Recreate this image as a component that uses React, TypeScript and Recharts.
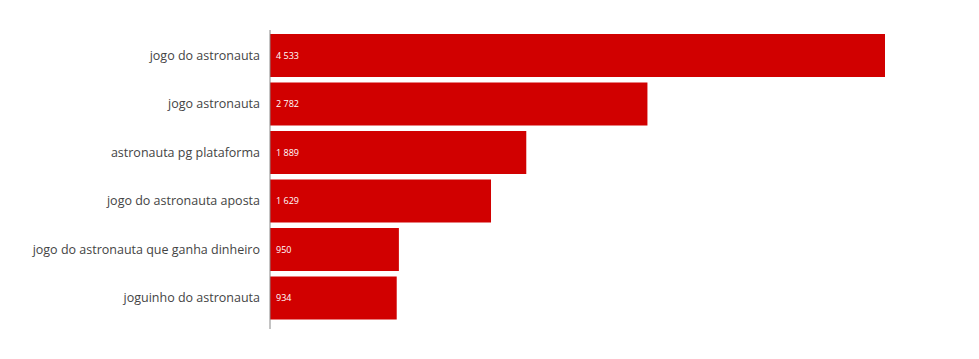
import { Bar, BarChart, LabelList, XAxis, YAxis } from 'recharts'

const categories = [
    'jogo do astronauta',
    'jogo astronauta',
    'astronauta pg plataforma',
    'jogo do astronauta aposta',
    'jogo do astronauta que ganha dinheiro',
    'joguinho do astronauta',
]

const searches = [4533, 2782, 1889, 1629, 950, 934]

const data = categories.map((name, i) => ({ name, value: searches[i] }))

// separador de milhar com espaço, como no original
const fmt = (v: number) => String(v).replace(/\B(?=(\d{3})+(?!\d))/g, ' ')

export default function App() {
    return (
        <div style={{ width: 979, height: 359 }}>
            <style>{'body{margin:0}'}</style>
            <BarChart
                width={979}
                height={359}
                data={data}
                layout="vertical"
                margin={{ top: 30, right: 94, left: 0, bottom: 30 }}
                barCategoryGap={0}
                style={{ fontFamily: 'Open Sans, sans-serif' }}
            >
                <XAxis type="number" hide domain={[0, 'dataMax']} />
                <YAxis
                    type="category"
                    dataKey="name"
                    width={270}
                    tickLine={false}
                    tickSize={0}
                    tickMargin={10}
                    axisLine={{ stroke: '#888', strokeWidth: 1 }}
                    padding={{ top: 1, bottom: 7 }}
                    tick={{ fontSize: 12.5, fill: '#444' }}
                    interval={0}
                />
                <Bar
                    dataKey="value"
                    fill="#d10000"
                    barSize={43}
                    isAnimationActive={false}
                >
                    <LabelList
                        dataKey="value"
                        position="insideLeft"
                        offset={6}
                        formatter={(v: any) => fmt(Number(v))}
                        style={{ fill: '#fff', fontSize: 9 }}
                    />
                </Bar>
            </BarChart>
        </div>
    )
}
